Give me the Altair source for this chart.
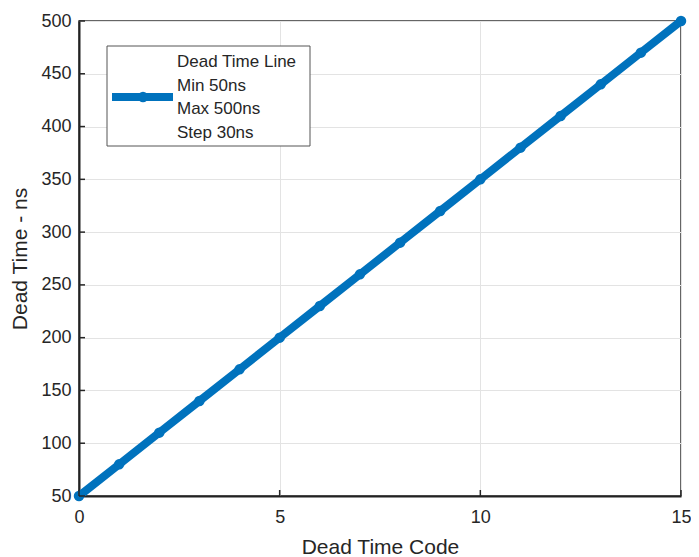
import altair as alt
import pandas as pd

codes = [0, 1, 2, 3, 4, 5, 6, 7, 8, 9, 10, 11, 12, 13, 14, 15]
times = [50, 80, 110, 140, 170, 200, 230, 260, 290, 320, 350, 380, 410, 440, 470, 500]
x_ticks = [0, 5, 10, 15]
y_ticks = [50, 100, 150, 200, 250, 300, 350, 400, 450, 500]
legend_lines = ["Dead Time Line", "Min 50ns", "Max 500ns", "Step 30ns"]

W, H = 602, 475
BLUE = "#0072BD"
FONT = "Liberation Sans"

df = pd.DataFrame({"code": codes, "time": times})
xs = alt.Scale(domain=[0, 15], nice=False, zero=False)
ys = alt.Scale(domain=[50, 500], nice=False, zero=False)

xaxis = alt.Axis(values=x_ticks, title="Dead Time Code", grid=True, ticks=False, tickSize=0,
                 labelPadding=12, labelFlush=False, titleY=51, titleBaseline="middle",
                 titleFontSize=21, labelFontSize=18)
yaxis = alt.Axis(values=y_ticks, title="Dead Time - ns", grid=True, ticks=False, tickSize=0,
                 labelPadding=8, labelFlush=False, titleX=-59, titleY=H / 2, titleAngle=270,
                 titleBaseline="middle", titleFontSize=21, labelFontSize=18)

line = alt.Chart(df).mark_line(color=BLUE, strokeWidth=8, strokeCap="round").encode(
    x=alt.X("code:Q", scale=xs, axis=xaxis),
    y=alt.Y("time:Q", scale=ys, axis=yaxis),
)
pts = alt.Chart(df).mark_circle(color=BLUE, size=110, opacity=1).encode(
    x=alt.X("code:Q", scale=xs),
    y=alt.Y("time:Q", scale=ys),
)

xt = alt.Chart(pd.DataFrame({"v": x_ticks})).mark_rule(color="#262626", strokeWidth=1.5).encode(
    x=alt.X("v:Q", scale=xs), y=alt.value(H), y2=alt.value(H - 6)
)
yt = alt.Chart(pd.DataFrame({"v": y_ticks})).mark_rule(color="#262626", strokeWidth=1.5).encode(
    y=alt.Y("v:Q", scale=ys), x=alt.value(0), x2=alt.value(6)
)

one = pd.DataFrame({"a": [0]})
box = alt.Chart(one).mark_rect(fill="white", stroke="#555555", strokeWidth=1).encode(
    x=alt.value(28), x2=alt.value(231), y=alt.value(25), y2=alt.value(125)
)
leg_line = alt.Chart(one).mark_rule(color=BLUE, strokeWidth=8).encode(
    x=alt.value(33), x2=alt.value(94), y=alt.value(76)
)
leg_pt = alt.Chart(one).mark_circle(color=BLUE, size=110, opacity=1).encode(
    x=alt.value(64), y=alt.value(76)
)
texts = []
for i, t in enumerate(legend_lines):
    texts.append(
        alt.Chart(one).mark_text(text=t, align="left", baseline="middle", font=FONT,
                                 fontSize=17, color="#262626").encode(
            x=alt.value(98), y=alt.value(41 + 23.5 * i)
        )
    )

chart = alt.layer(line, pts, xt, yt, box, leg_line, leg_pt, *texts).properties(
    width=W, height=H,
    autosize=alt.AutoSizeParams(type="none"),
    padding={"left": 71, "top": 13, "right": 10, "bottom": 62},
).configure_view(stroke="#333333", strokeWidth=1.5).configure_axis(
    labelFont=FONT, titleFont=FONT, labelColor="#262626", titleColor="#262626",
    titleFontWeight="normal", domainColor="#222222", domainWidth=2,
    gridColor="#e3e3e3", gridWidth=1,
)

chart.save("out.html", embed_options={"renderer": "svg", "actions": False})
